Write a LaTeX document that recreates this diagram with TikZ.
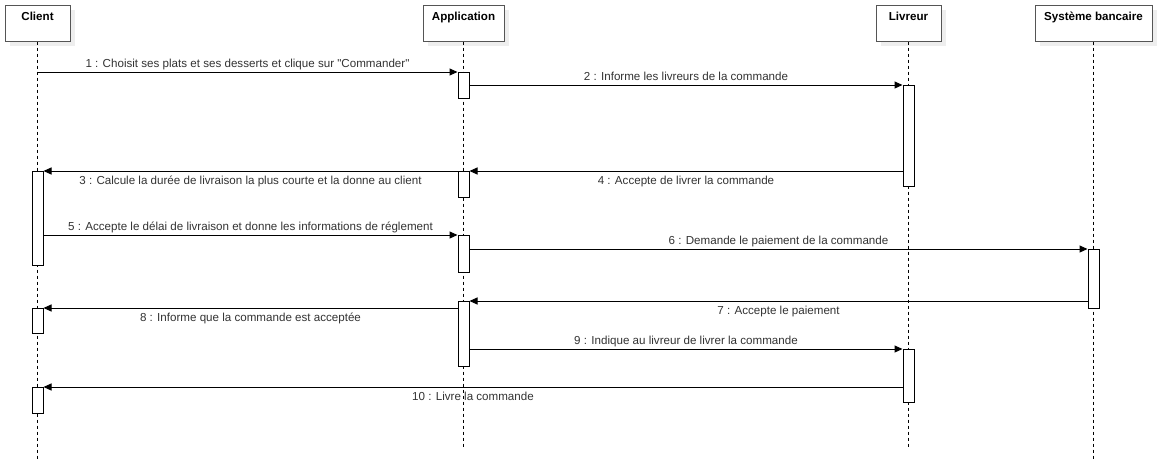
\documentclass[tikz,border=0pt]{standalone}
\usepackage{fontspec}
\setmainfont{Liberation Sans}[Ligatures=TeXOff]
\usetikzlibrary{arrows.meta,shadows}
\definecolor{txt}{HTML}{333333}
\definecolor{hbord}{HTML}{555555}
\definecolor{shad}{HTML}{EEEEEE}
\tikzset{
  headbox/.style={draw=hbord, fill=white, line width=0.75pt, minimum height=36*0.75pt, inner sep=0pt,
    general shadow={fill=shad, shadow xshift=3.5pt, shadow yshift=-3.5pt}},
  headtxt/.style={font=\fontsize{8.7pt}{9.5pt}\selectfont\bfseries, text=black, anchor=base, inner sep=0pt},
  actbox/.style={draw=black, fill=white, line width=0.75pt, minimum width=11*0.75pt, inner sep=0pt, anchor=north},
  lifeline/.style={draw=black, line width=0.75pt, dash pattern=on 2.25pt off 2.25pt},
  msg/.style={draw=black, line width=0.75pt, -{Triangle[length=6pt,width=5.25pt]}},
  lblup/.style={font=\fontsize{8.7pt}{9.5pt}\selectfont, text=txt, anchor=base, inner sep=0pt, midway, yshift=3.75pt},
  lbldn/.style={font=\fontsize{8.7pt}{9.5pt}\selectfont, text=txt, anchor=base, inner sep=0pt, midway, yshift=-9.75pt},
}
\begin{document}
\begin{tikzpicture}[x=0.75pt,y=-0.75pt]
\useasboundingbox[fill=white] (0,0) rectangle (1163,471);
% header boxes
\node[headbox, minimum width=65*0.75pt] (client) at (37.5,23) {};
\node[headbox, minimum width=81*0.75pt] (app) at (463.5,23) {};
\node[headbox, minimum width=65*0.75pt] (livreur) at (908.5,23) {};
\node[headbox, minimum width=117*0.75pt] (bank) at (1093.5,23) {};
\node[headtxt] (clientt) at (37.5,20.5) {Client};
\node[headtxt] (appt) at (463.5,20.5) {Application};
\node[headtxt] (livreurt) at (908.5,20.5) {Livreur};
\node[headtxt] (bankt) at (1093.5,20.5) {Système bancaire};
% lifeline ends
\coordinate (clientend) at (37.5,459);
\coordinate (append) at (463.5,449);
\coordinate (livreurend) at (908.5,449);
\coordinate (bankend) at (1093.5,459);
\draw[lifeline] (client.south) -- (clientend);
\draw[lifeline] (app.south) -- (append);
\draw[lifeline] (livreur.south) -- (livreurend);
\draw[lifeline] (bank.south) -- (bankend);
% activations
\node[actbox, minimum height=94*0.75pt] (c1) at (37.5,171) {};
\node[actbox, minimum height=25*0.75pt] (c2) at (37.5,308) {};
\node[actbox, minimum height=26*0.75pt] (c3) at (37.5,387) {};
\node[actbox, minimum height=26*0.75pt] (a1) at (463.5,72) {};
\node[actbox, minimum height=26*0.75pt] (a2) at (463.5,171) {};
\node[actbox, minimum height=37*0.75pt] (a3) at (463.5,235) {};
\node[actbox, minimum height=65*0.75pt] (a4) at (463.5,301) {};
\node[actbox, minimum height=101*0.75pt] (l1) at (908.5,85) {};
\node[actbox, minimum height=53*0.75pt] (l2) at (908.5,349) {};
\node[actbox, minimum height=59*0.75pt] (b1) at (1093.5,249) {};
% messages
\draw[msg] (client.south |- a1.north) -- (a1.north west)
  node[lblup] {1 : Choisit ses plats et ses desserts et clique sur "Commander"};
\draw[msg] (a1.east |- l1.north) -- (l1.north west)
  node[lblup] {2 : Informe les livreurs de la commande};
\draw[msg] (a2.north west) -- (c1.north east)
  node[lbldn] {3 : Calcule la durée de livraison la plus courte et la donne au client};
\draw[msg] (l1.west |- a2.north) -- (a2.north east)
  node[lbldn] {4 : Accepte de livrer la commande};
\draw[msg] (c1.east |- a3.north) -- (a3.north west)
  node[lblup] {5 : Accepte le délai de livraison et donne les informations de réglement};
\draw[msg] (a3.east |- b1.north) -- (b1.north west)
  node[lblup] {6 : Demande le paiement de la commande};
\draw[msg] (b1.west |- a4.north) -- (a4.north east)
  node[lbldn] {7 : Accepte le paiement};
\draw[msg] (a4.west |- c2.north) -- (c2.north east)
  node[lbldn] {8 : Informe que la commande est acceptée};
\draw[msg] (a4.east |- l2.north) -- (l2.north west)
  node[lblup] {9 : Indique au livreur de livrer la commande};
\draw[msg] (l2.west |- c3.north) -- (c3.north east)
  node[lbldn] {10 : Livre la commande};
\end{tikzpicture}
\end{document}
